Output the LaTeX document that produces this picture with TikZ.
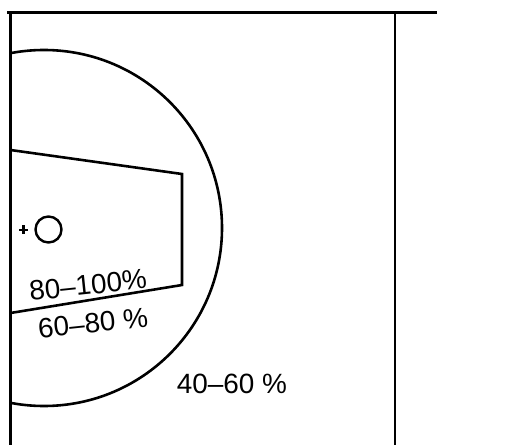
\documentclass[tikz,border=0pt]{standalone}
\usepackage{fontspec}
\setmainfont{Liberation Sans}
\tikzset{
  frame/.style={line width=2.4pt},
  topline/.style={line width=3.6pt},
  zone/.style={line width=2.6pt},
  lbl/.style={font=\fontsize{28}{30}\selectfont, inner sep=0pt},
}
\begin{document}
\begin{tikzpicture}[x=1bp,y=-1bp]
\useasboundingbox (0,0) rectangle (510,445);
% frame
\draw[topline] (7,12.5) -- (437,12.5);
\draw[frame] (10.5,12.5) -- (10.5,445);
\draw[frame] (395,12.5) -- (395,445);
% large circle, clipped to the frame
\begin{scope}
  \clip (10.5,0) rectangle (395,445);
  \draw[zone] (44,228) circle[radius=178];
\end{scope}
% inner zone
\coordinate (q1) at (10.5,150);
\coordinate (q2) at (182,174);
\coordinate (q3) at (182,285);
\coordinate (q4) at (10.5,313);
\draw[zone] (q1) -- (q2) -- (q3) -- (q4);
% source marker
\draw[line width=2.4pt] (19,230) -- (28,230) (23.5,225.5) -- (23.5,234.5);
\draw[line width=2.4pt] (48.5,229.5) circle[radius=13];
% labels
\node[lbl, rotate=6] (l80) at (88,285) {80--100\%};
\node[lbl, rotate=6] (l60) at (93,323) {60--80 \%};
\node[lbl] (l40) at (232,384) {40--60 \%};
\end{tikzpicture}
\end{document}
